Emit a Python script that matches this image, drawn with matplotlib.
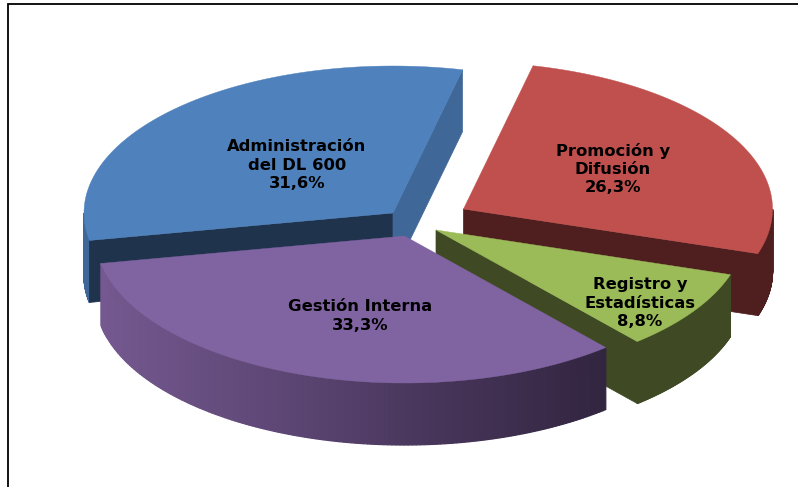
import matplotlib
matplotlib.use('Agg')
import matplotlib.pyplot as plt
from matplotlib.patches import Polygon
from matplotlib.colors import LinearSegmentedColormap
import numpy as np

# slices in drawing order round the pie, clockwise from the top
names = ['Promoción y\nDifusión', 'Registro y\nEstadísticas', 'Gestión Interna', 'Administración\ndel DL 600']
values = [26.3, 8.8, 33.3, 31.6]

top_colors = ['#c0504d', '#9bbb59', '#8064a2', '#4f81bd']
side_colors = ['#4f1f1f', '#3f4a24', '#5a4570', '#3f6797']
cut_colors = ['#4f1f1f', '#3f4a24', '#5a4570', '#1f334d']

# pie geometry in pixels
a = 309.0
b = 147.0
depth = 62.0
start = 77.0
apex = [(463.5, 209), (436, 230), (404.5, 236), (393, 213)]
label_pos = [(613, 169), (640, 303), (360, 316), (297, 165)]

fig = plt.figure(figsize=(7.98, 4.87), dpi=100)
ax = fig.add_axes([0, 0, 1, 1])
ax.set_xlim(0, 798)
ax.set_ylim(487, 0)
ax.axis('off')

purple_map = LinearSegmentedColormap.from_list('side', ['#74588f', '#5f4877', '#47355a', '#322540'])

# angle limits of each slice
edges = start - np.cumsum([0] + values) * 3.6


def arc(i, t0, t1, n=120):
    t = np.radians(np.linspace(t0, t1, n))
    return apex[i][0] + a * np.cos(t), apex[i][1] - b * np.sin(t)


def cut_face(i, t, color):
    x, y = arc(i, t, t, 1)
    x0, y0 = apex[i]
    pts = [(x0, y0), (x[0], y[0]), (x[0], y[0] + depth), (x0, y0 + depth)]
    ax.add_patch(Polygon(pts, closed=True, fc=color, ec=color, lw=0.5))


def outer_side(i, t0, t1, color=None):
    # only the part of the rim facing the viewer
    x, y = arc(i, t0, t1, 160)
    for k in range(len(x) - 1):
        c = color
        if c is None:
            c = purple_map((x[k] - x.min()) / (x.max() - x.min()))
        pts = [(x[k], y[k]), (x[k + 1], y[k + 1]), (x[k + 1], y[k + 1] + depth), (x[k], y[k] + depth)]
        ax.add_patch(Polygon(pts, closed=True, fc=c, ec=c, lw=0.9))


def top_face(i, t0, t1):
    x, y = arc(i, t0, t1, 200)
    pts = [apex[i]] + list(zip(x, y))
    ax.add_patch(Polygon(pts, closed=True, fc=top_colors[i], ec=top_colors[i], lw=0.3))


# blue, at the back
outer_side(3, -180, edges[3], side_colors[3])
cut_face(3, edges[3], cut_colors[3])
cut_face(3, edges[4], side_colors[3])
top_face(3, edges[3], edges[4])

# red
cut_face(0, edges[1], cut_colors[0])
outer_side(0, 0, edges[1], side_colors[0])
top_face(0, edges[0], edges[1])

# green
outer_side(1, edges[1], edges[2], side_colors[1])
cut_face(1, edges[2], cut_colors[1])
top_face(1, edges[1], edges[2])

# purple, in front
outer_side(2, edges[2], edges[3])
top_face(2, edges[2], edges[3])

for i in range(4):
    txt = names[i] + '\n' + ('%.1f%%' % values[i]).replace('.', ',')
    ax.text(label_pos[i][0], label_pos[i][1], txt, ha='center', va='center', fontsize=11.8,
            fontweight='bold', family='DejaVu Sans', color='black', linespacing=1.27)

# frame, cut by the picture on the right and at the bottom
ax.plot([8, 8, 798], [487, 4, 4], color='black', lw=1.3, solid_joinstyle='miter')

plt.savefig('out.png', dpi=100)
